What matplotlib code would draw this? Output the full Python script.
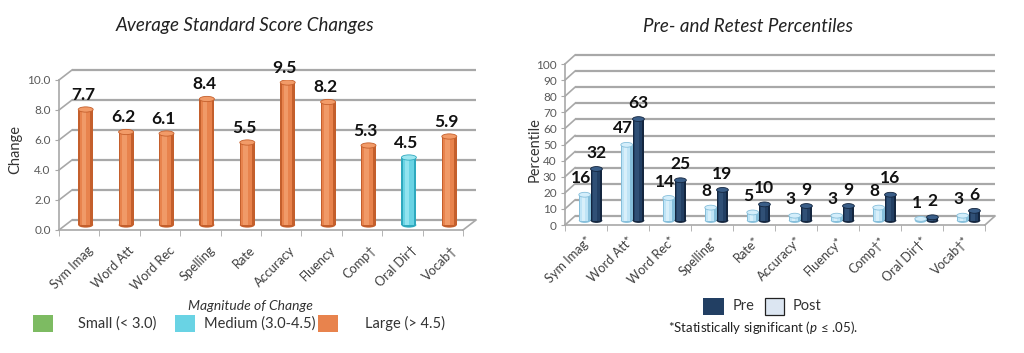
import matplotlib
matplotlib.use('Agg')
import matplotlib.pyplot as plt
from matplotlib.patches import Rectangle, Ellipse
import numpy as np

plt.rcParams['font.family'] = ['Lato', 'DejaVu Sans']
plt.rcParams['mathtext.fontset'] = 'custom'
plt.rcParams['mathtext.it'] = 'Lato:italic'
plt.rcParams['mathtext.rm'] = 'Lato'

# ---------------- data ----------------
change_cats = ["Sym Imag", "Word Att", "Word Rec", "Spelling", "Rate",
               "Accuracy", "Fluency", "Comp\u2020", "Oral Dir\u2020", "Vocab\u2020"]
change_vals = [7.7, 6.2, 6.1, 8.4, 5.5, 9.5, 8.2, 5.3, 4.5, 5.9]
change_mag = ["Large", "Large", "Large", "Large", "Large",
              "Large", "Large", "Large", "Medium", "Large"]
change_ticks = [0, 2, 4, 6, 8, 10]

pct_cats = ["Sym Imag*", "Word Att*", "Word Rec*", "Spelling*", "Rate*",
            "Accuracy*", "Fluency*", "Comp\u2020*", "Oral Dir\u2020*", "Vocab\u2020*"]
post_vals = [16, 47, 14, 8, 5, 3, 3, 8, 1, 3]     # light bars
pre_vals = [32, 63, 25, 19, 10, 9, 9, 16, 2, 6]   # dark bars
pct_ticks = list(range(0, 101, 10))

mag_labels = ["Small (< 3.0)", "Medium (3.0-4.5)", "Large (> 4.5)"]

# ---------------- style ----------------
W, H = 1024, 353
GRID = '#A8A8A8'
TICKC = '#595959'
MAG_COL = {"Small": ('#5E9E46', '#7DBB62', '#9FD386', '#A5D98C'),
           "Medium": ('#2FA9BE', '#69D3E4', '#A4EAF4', '#9EE6F0'),
           "Large": ('#C45F2C', '#E8834D', '#F4A474', '#F29B68')}
LIGHT = ('#86BFDB', '#BFE4F6', '#E4F5FD', '#D4EEFB')
DARK = ('#14263F', '#223F63', '#36587F', '#3A5E88')

fig = plt.figure(figsize=(W / 100, H / 100), dpi=100)


def fx(x):
    return x / W


def fy(y):
    return 1 - y / H


def frame(ax, n, ymax, ticks, dxp, dyp, pxu_x, pxu_y, fmt, xpad):
    ddx = dxp / pxu_x
    ddy = dyp / pxu_y
    ax.set_xlim(-0.5, n - 0.5)
    ax.set_ylim(0, ymax)
    for s in ['top', 'right']:
        ax.spines[s].set_visible(False)
    for s in ['left', 'bottom']:
        ax.spines[s].set_color(GRID)
        ax.spines[s].set_linewidth(1.2)
    for t in ticks:
        ax.plot([-0.5 + ddx, n - 0.5 + ddx], [t + ddy, t + ddy], color=GRID,
                lw=1.6, clip_on=False, zorder=1, solid_capstyle='butt')
        ax.plot([-0.5, -0.5 + ddx], [t, t + ddy], color=GRID, lw=1.2,
                clip_on=False, zorder=1)
    ax.plot([n - 0.5, n - 0.5 + ddx], [0, ddy], color=GRID, lw=1.2,
            clip_on=False, zorder=1)
    ax.set_yticks(ticks)
    ax.set_yticklabels([fmt.format(t) for t in ticks])
    ax.tick_params(axis='y', length=3, color=GRID, labelsize=8.5,
                   labelcolor=TICKC, pad=3)
    ax.set_xticks(np.arange(-0.5, n, 1.0), minor=True)
    ax.tick_params(axis='x', which='minor', length=4, color=GRID)
    ax.tick_params(axis='x', which='major', length=0, labelsize=9.2,
                   labelcolor='#404040', pad=xpad)
    ax.patch.set_visible(False)
    return ddx, ddy


def cylinder(ax, x, h, w, base, cols, eh, z):
    edge, mid, light, top = cols
    ax.add_patch(Ellipse((x, base), w, eh, facecolor=edge, edgecolor='none',
                         zorder=z))
    ax.bar(x, h, w, bottom=base, color=edge, zorder=z + 0.1, linewidth=0)
    ax.bar(x - w * 0.05, h, w * 0.72, bottom=base, color=mid, zorder=z + 0.2,
           linewidth=0)
    ax.bar(x - w * 0.12, h, w * 0.3, bottom=base, color=light, zorder=z + 0.3,
           linewidth=0, alpha=0.7)
    ax.add_patch(Ellipse((x, base + h), w, eh, facecolor=top, edgecolor=edge,
                         linewidth=0.6, zorder=z + 0.4))


# ---------------- left chart ----------------
axL = fig.add_axes([fx(59), fy(230), (463 - 59) / W, (230 - 80) / H])
n = len(change_cats)
ddxL, ddyL = frame(axL, n, 10, change_ticks, 13, 10, 40.4, 15.0, "{:.1f}", 10)
xL = np.arange(n) + ddxL / 2
for i, v in enumerate(change_vals):
    cylinder(axL, xL[i], v, 0.37, ddyL / 2, MAG_COL[change_mag[i]], 0.35, 3 + i)
    axL.annotate(f"{v:.1f}", (xL[i], v + ddyL / 2), xytext=(-2, 5),
                 textcoords='offset points', ha='center', va='bottom',
                 fontsize=12.5, fontweight='bold', color='#111111',
                 annotation_clip=False, zorder=30)
axL.set_xticks(np.arange(n) + 0.2)
axL.set_xticklabels(change_cats, rotation=45, ha='right',
                    rotation_mode='anchor')
fig.text(fx(245), fy(26), "Average Standard Score Changes", ha='center',
         va='center', fontsize=13.5, style='italic', color='#222222')
fig.text(fx(15), fy(150), "Change", rotation=90, ha='center', va='center',
         fontsize=10.5, color='#333333')

# left legend
fig.text(fx(250), fy(306), "Magnitude of Change", ha='center', va='center',
         fontsize=10, style='italic', color='#333333')
leg_sq = [(33, "Small"), (175, "Medium"), (318, "Large")]
leg_tx = [78, 204, 365]
for (sx, key), tx, lab in zip(leg_sq, leg_tx, mag_labels):
    fig.patches.append(Rectangle((fx(sx), fy(332)), 20 / W, 17 / H,
                                 transform=fig.transFigure,
                                 facecolor=MAG_COL[key][1], edgecolor='none'))
    fig.text(fx(tx), fy(323.5), lab, ha='left', va='center', fontsize=10.5,
             color='#333333')

# ---------------- right chart ----------------
axR = fig.add_axes([fx(565), fy(225), (985 - 565) / W, (225 - 64) / H])
ddxR, ddyR = frame(axR, n, 100, pct_ticks, 10, 9, 42.0, 1.61, "{:d}", 7)
wR = 0.28
xc = np.arange(n) + ddxR / 2
for i in range(n):
    xl = xc[i] - 0.15
    xd = xc[i] + 0.13
    cylinder(axR, xl, post_vals[i], wR, ddyR / 2, LIGHT, 3.0, 3 + 2 * i)
    cylinder(axR, xd, pre_vals[i], wR, ddyR / 2, DARK, 3.0, 3.5 + 2 * i)
    axR.annotate(f"{post_vals[i]}", (xl, post_vals[i] + ddyR / 2),
                 xytext=(-3, 6), textcoords='offset points', ha='center',
                 va='bottom', fontsize=12.5, fontweight='bold',
                 color='#111111', annotation_clip=False, zorder=30)
    axR.annotate(f"{pre_vals[i]}", (xd, pre_vals[i] + ddyR / 2),
                 xytext=(0, 6), textcoords='offset points', ha='center',
                 va='bottom', fontsize=12.5, fontweight='bold',
                 color='#111111', annotation_clip=False, zorder=30)
axR.set_xticks(np.arange(n) - 0.02)
axR.set_xticklabels(pct_cats, rotation=45, ha='right', rotation_mode='anchor')
fig.text(fx(748), fy(26), "Pre- and Retest Percentiles", ha='center',
         va='center', fontsize=13.5, style='italic', color='#222222')
fig.text(fx(535), fy(150), "Percentile", rotation=90, ha='center',
         va='center', fontsize=10.5, color='#333333')

# right legend
fig.patches.append(Rectangle((fx(703), fy(315)), 21 / W, 17 / H,
                             transform=fig.transFigure, facecolor=DARK[1],
                             edgecolor='none'))
fig.text(fx(733), fy(306.5), "Pre", ha='left', va='center', fontsize=10.5,
         color='#333333')
fig.patches.append(Rectangle((fx(765), fy(315)), 19 / W, 17 / H,
                             transform=fig.transFigure, facecolor='#DCE6F2',
                             edgecolor='#222222', linewidth=0.9))
fig.text(fx(793), fy(306.5), "Post", ha='left', va='center', fontsize=10.5,
         color='#333333')
fig.text(fx(763), fy(328),
         "*Statistically significant ($\\mathit{p}\\,{\\leq}\\,$.05).",
         ha='center', va='center', fontsize=9.5, color='#222222')

fig.savefig('out.png', dpi=100)
